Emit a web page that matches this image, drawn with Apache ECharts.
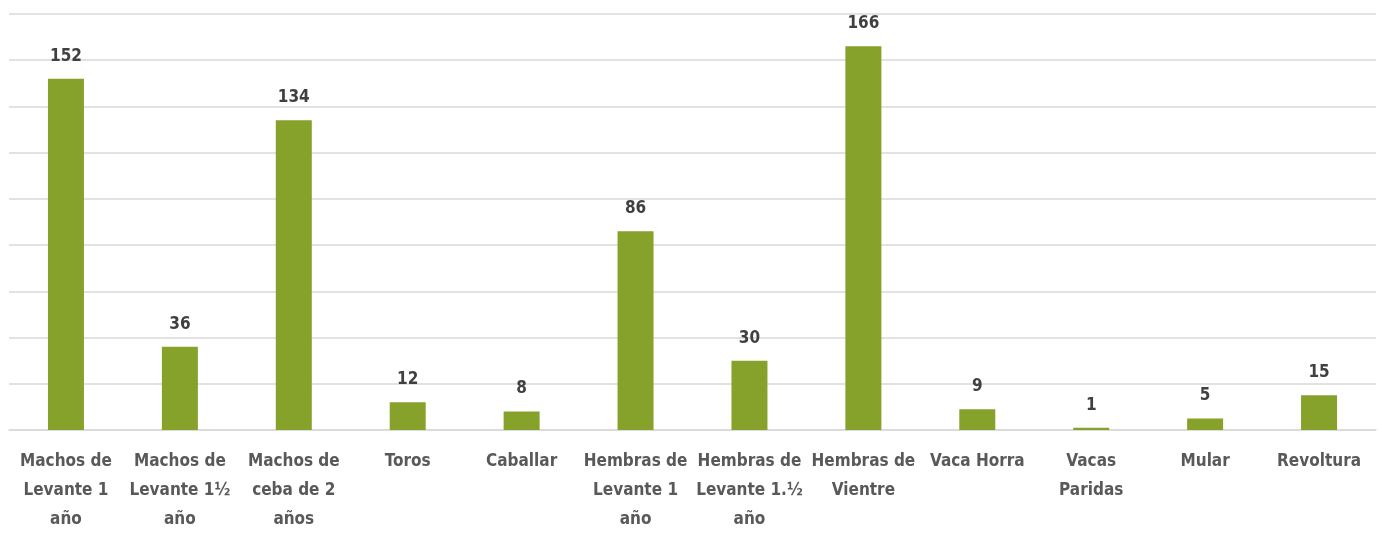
<!DOCTYPE html>
<html>
<head>
<meta charset="utf-8">
<script src="https://cdn.jsdelivr.net/npm/echarts@6/dist/echarts.min.js"></script>
<style>
html,body{margin:0;padding:0;background:#fff;overflow:hidden;}
#chart{width:1382px;height:534px;}
</style>
</head>
<body>
<div id="chart"></div>
<script>
var categories = [
  "Machos de\nLevante 1\naño",
  "Machos de\nLevante 1½\naño",
  "Machos de\nceba de 2\naños",
  "Toros",
  "Caballar",
  "Hembras de\nLevante 1\naño",
  "Hembras de\nLevante 1.½\naño",
  "Hembras de\nVientre",
  "Vaca Horra",
  "Vacas\nParidas",
  "Mular",
  "Revoltura"
];
var values = [152, 36, 134, 12, 8, 86, 30, 166, 9, 1, 5, 15];

var FONT = '"DejaVu Sans Condensed", "Liberation Sans Narrow", sans-serif';
var chart = echarts.init(document.getElementById('chart'));
chart.setOption({
  animation: false,
  grid: {left: 9, right: 6, top: 14, bottom: 99, containLabel: false},
  xAxis: {
    type: 'category',
    data: categories,
    axisLine: {lineStyle: {color: '#d9d9d9', width: 1.5}},
    axisTick: {show: false},
    axisLabel: {
      interval: 0,
      margin: 17,
      color: '#595959',
      fontFamily: FONT,
      fontWeight: 'bold',
      fontSize: 17,
      lineHeight: 29
    }
  },
  yAxis: {
    type: 'value',
    min: 0,
    max: 180,
    interval: 20,
    axisLabel: {show: false},
    axisLine: {show: false},
    axisTick: {show: false},
    splitLine: {lineStyle: {color: '#d9d9d9', width: 1.5}}
  },
  series: [{
    type: 'bar',
    data: values,
    barWidth: 36,
    itemStyle: {color: '#86a22a'},
    label: {
      show: true,
      position: 'top',
      distance: 14,
      color: '#404040',
      fontFamily: FONT,
      fontWeight: 'bold',
      fontSize: 17
    }
  }]
});
</script>
</body>
</html>
